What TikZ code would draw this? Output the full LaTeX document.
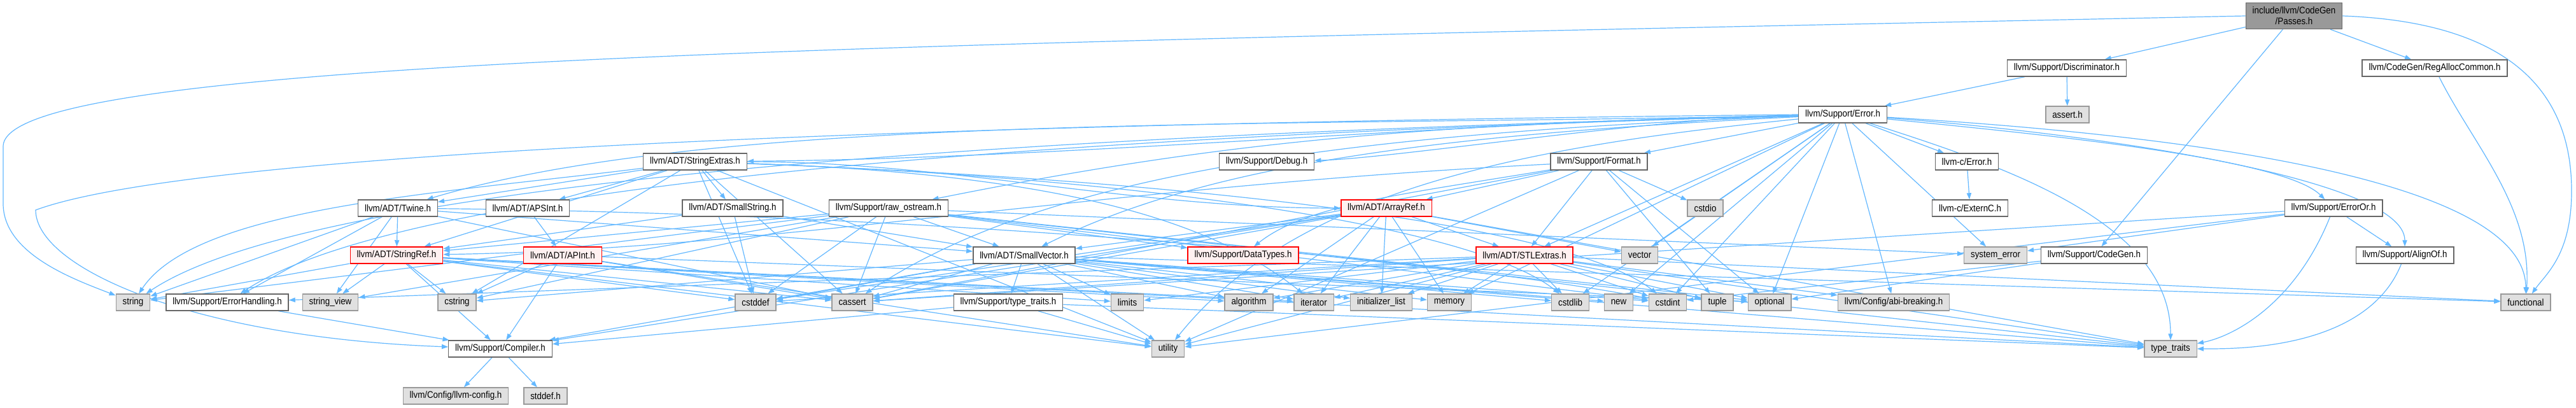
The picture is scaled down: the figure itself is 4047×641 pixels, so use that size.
\documentclass[tikz,border=0pt]{standalone}
\usepackage{fontspec}
\setmainfont{Liberation Sans}[FakeStretch=0.89]
\usepackage{xcolor}
\usepackage{tikz}
\usetikzlibrary{arrows.meta}
\definecolor{edgeblue}{HTML}{63B8FF}
\definecolor{boxline}{HTML}{666666}
\definecolor{sysline}{HTML}{999999}
\definecolor{sysfill}{HTML}{E0E0E0}
\definecolor{trunline}{HTML}{FF0000}
\definecolor{trunfill}{HTML}{FFF0F0}
\definecolor{rootfill}{HTML}{999999}
\pgfdeclarelayer{edgelayer}
\pgfsetlayers{edgelayer,main}
\tikzset{
  hdr/.style={draw=boxline,fill=white,line width=.7pt,minimum height=13pt,inner xsep=5.2pt,inner ysep=0pt},
  sys/.style={hdr,draw=sysline,fill=sysfill},
  trunc/.style={hdr,draw=trunline,fill=trunfill},
  root/.style={hdr,fill=rootfill,minimum height=20.5pt,align=center},
  dep/.style={draw=edgeblue,line width=.6pt,-{Triangle[length=5pt,width=3.6pt]}},
  every edge/.style={dep}
}

\begin{document}
\begin{tikzpicture}[x=0.5pt,y=-0.5pt,font=\fontsize{7.5}{8.6}\selectfont]
\useasboundingbox (0,0) rectangle (4047,641);
\node[root] (pass) at (3604,25) {include/llvm/CodeGen\\/Passes.h};
\node[hdr] (discr) at (3247,107) {llvm/Support/Discriminator.h};
\node[hdr] (regalloc) at (3825,107) {llvm/CodeGen/RegAllocCommon.h};
\node[hdr] (errh) at (2895,180) {llvm/Support/Error.h};
\node[sys] (asserth) at (3248,180) {assert.h};
\node[hdr] (strext) at (1092,254) {llvm/ADT/StringExtras.h};
\node[hdr] (debugh) at (1990,254) {llvm/Support/Debug.h};
\node[hdr] (formath) at (2512,254) {llvm/Support/Format.h};
\node[hdr] (cerr) at (3090,254) {llvm-c/Error.h};
\node[hdr] (twine) at (625,327) {llvm/ADT/Twine.h};
\node[hdr] (apsint) at (829,327) {llvm/ADT/APSInt.h};
\node[hdr] (smallstr) at (1151,327) {llvm/ADT/SmallString.h};
\node[hdr] (rawos) at (1396,327) {llvm/Support/raw\_ostream.h};
\node[trunc] (arrayref) at (2178,327) {llvm/ADT/ArrayRef.h};
\node[sys] (cstdio) at (2679,327) {cstdio};
\node[hdr] (externc) at (3095,327) {llvm-c/ExternC.h};
\node[hdr] (erroror) at (3666,327) {llvm/Support/ErrorOr.h};
\node[trunc] (strref) at (623,401) {llvm/ADT/StringRef.h};
\node[trunc] (apint) at (884,401) {llvm/ADT/APInt.h};
\node[hdr] (smallvec) at (1609,401) {llvm/ADT/SmallVector.h};
\node[trunc] (datatypes) at (1953,401) {llvm/Support/DataTypes.h};
\node[trunc] (stlext) at (2395,401) {llvm/ADT/STLExtras.h};
\node[sys] (vector) at (2576,401) {vector};
\node[sys] (syserr) at (3135,401) {system\_error};
\node[hdr] (codegen) at (3290,401) {llvm/Support/CodeGen.h};
\node[hdr] (alignof) at (3778,401) {llvm/Support/AlignOf.h};
\node[sys] (string) at (209,475) {string};
\node[hdr] (errhand) at (357,475) {llvm/Support/ErrorHandling.h};
\node[sys] (strview) at (519,475) {string\_view};
\node[sys] (cstring) at (718,475) {cstring};
\node[sys] (cstddef) at (1187,475) {cstddef};
\node[sys] (cassert) at (1339,475) {cassert};
\node[hdr] (ttraitsh) at (1584,475) {llvm/Support/type\_traits.h};
\node[sys] (limits) at (1771,475) {limits};
\node[sys] (algorithm) at (1962,475) {algorithm};
\node[sys] (iterator) at (2064,475) {iterator};
\node[sys] (initlist) at (2170,475) {initializer\_list};
\node[sys] (memory) at (2277,475) {memory};
\node[sys] (cstdlib) at (2467,475) {cstdlib};
\node[sys] (new) at (2543,475) {new};
\node[sys] (cstdint) at (2620,475) {cstdint};
\node[sys] (tuple) at (2698,475) {tuple};
\node[sys] (optional) at (2780,475) {optional};
\node[sys] (abibreak) at (2975,475) {llvm/Config/abi-breaking.h};
\node[sys] (functional) at (3968,475) {functional};
\node[hdr] (compiler) at (786,548) {llvm/Support/Compiler.h};
\node[sys] (utility) at (1835,548) {utility};
\node[sys] (typetraits) at (3410,548) {type\_traits};
\node[sys] (llvmcfg) at (716,622) {llvm/Config/llvm-config.h};
\node[sys] (stddefh) at (857,622) {stddef.h};

\begin{pgfonlayer}{edgelayer}
\fill[white] (0,0) rectangle (4047,641);
\path (pass) edge (discr) edge (regalloc) edge (codegen);
\draw[dep] (pass.west) .. controls (1400,70) and (5,90) .. (5,230) -- (5,320) .. controls (5,400) and (120,440) .. (string);
\draw[dep] (pass.east) .. controls (3950,35) and (4040,150) .. (4040,300) .. controls (4040,400) and (4000,430) .. (functional);
\path (discr) edge (errh) edge (asserth);
\draw[dep] (regalloc) .. controls +(60,120) and +(10,-150) .. (functional);
\path (errh) edge (cerr) edge (stlext) edge (formath) edge (abibreak) edge (syserr) edge (vector)
  edge (cstdint) edge (cstdlib) edge (memory) edge (new) edge (optional);
\draw[dep] (errh) .. controls +(-600,10) and +(600,-5) .. (strext);
\draw[dep] (errh) .. controls +(-300,5) and +(200,-5) .. (debugh);
\draw[dep] (errh) .. controls +(-700,15) and +(500,-100) .. (rawos);
\draw[dep] (errh) .. controls +(-900,20) and +(500,-150) .. (twine);
\draw[dep] (errh) .. controls +(-600,30) and +(300,-150) .. (smallvec);
\draw[dep] (errh) .. controls +(-800,30) and +(300,-200) .. (cassert);
\draw[dep] (errh) .. controls +(-1200,30) and +(300,-200) .. (string);
\draw[dep] (errh) .. controls +(-1100,30) and +(300,-200) .. (errhand);
\draw[dep] (errh) .. controls +(-500,50) and +(200,-250) .. (utility);
\draw[dep] (errh) .. controls +(300,30) and +(-80,-80) .. (erroror);
\draw[dep] (errh) .. controls +(400,30) and +(0,-120) .. (alignof);
\draw[dep] (errh) .. controls +(500,30) and +(0,-200) .. (functional);
\draw[dep] (errh) .. controls +(250,80) and +(0,-200) .. (typetraits);
\draw[dep] (errh.west) .. controls (1400,195) and (300,240) .. (56,330) .. controls (56,420) and (300,530) .. (compiler);
\path (cerr) edge (externc);
\path (erroror) edge (alignof) edge (syserr) edge (cassert) edge (utility);
\draw[dep] (erroror) .. controls +(-60,150) and +(100,-20) .. (typetraits);
\draw[dep] (alignof) .. controls +(-60,150) and +(100,0) .. (typetraits);
\path (codegen) edge (cstdint) edge (optional);
\path (formath) edge (arrayref) edge (stlext) edge (cstdio) edge (optional) edge (tuple) edge (utility) edge (cassert);
\draw[dep] (formath) .. controls +(-300,50) and +(100,-80) .. (datatypes);
\draw[dep] (formath) .. controls +(-800,40) and +(600,-10) .. (strref);
\path (strext) edge (apsint) edge (smallstr) edge (strref) edge (twine) edge (cassert) edge (cstddef) edge (cstring)
  edge (utility);
\draw[dep] (strext) .. controls +(400,0) and +(-400,0) .. (arrayref);
\draw[dep] (strext) .. controls +(-400,50) and +(100,-150) .. (string);
\draw[dep] (strext) .. controls +(600,20) and +(-150,-120) .. (iterator);
\draw[dep] (strext) .. controls +(700,25) and +(-150,-120) .. (cstdlib);
\draw[dep] (strext) .. controls +(800,30) and +(-150,-120) .. (cstdint);
\path (apsint) edge (apint);
\path (apint) edge (compiler) edge (cassert) edge (cstring) edge (optional) edge (utility);
\path (smallstr) edge (smallvec) edge (strref) edge (cstddef);
\path (twine) edge (smallvec) edge (strref) edge (errhand) edge (cassert) edge (string) edge (strview);
\draw[dep] (twine) .. controls +(900,10) and +(-300,-60) .. (cstdint);
\path (strref) edge (compiler) edge (algorithm) edge (cassert) edge (cstddef) edge (cstring) edge (iterator)
  edge (limits) edge (string) edge (strview) edge (typetraits) edge (utility);
\path (rawos) edge (smallvec) edge (strref) edge (datatypes) edge (cassert) edge (cstddef) edge (cstdint)
  edge (cstring) edge (optional) edge (string) edge (strview) edge (syserr) edge (typetraits);
\path (arrayref) edge (smallvec) edge (stlext) edge (compiler) edge (algorithm) edge (cassert) edge (cstddef)
  edge (initlist) edge (iterator) edge (memory) edge (typetraits) edge (vector);
\path (smallvec) edge (compiler) edge (ttraitsh) edge (algorithm) edge (cassert) edge (cstddef) edge (cstdint)
  edge (cstdlib) edge (cstring) edge (functional) edge (initlist) edge (iterator) edge (limits) edge (memory)
  edge (new) edge (typetraits) edge (utility);
\path (ttraitsh) edge (compiler) edge (typetraits) edge (utility);
\path (stlext) edge (abibreak) edge (errhand) edge (algorithm) edge (cassert) edge (cstddef) edge (cstdint)
  edge (cstdlib) edge (functional) edge (initlist) edge (iterator) edge (limits) edge (memory) edge (optional)
  edge (tuple) edge (typetraits) edge (utility);
\path (errhand) edge (compiler);
\path (compiler) edge (llvmcfg) edge (stddefh);
\end{pgfonlayer}
\end{tikzpicture}
\end{document}
